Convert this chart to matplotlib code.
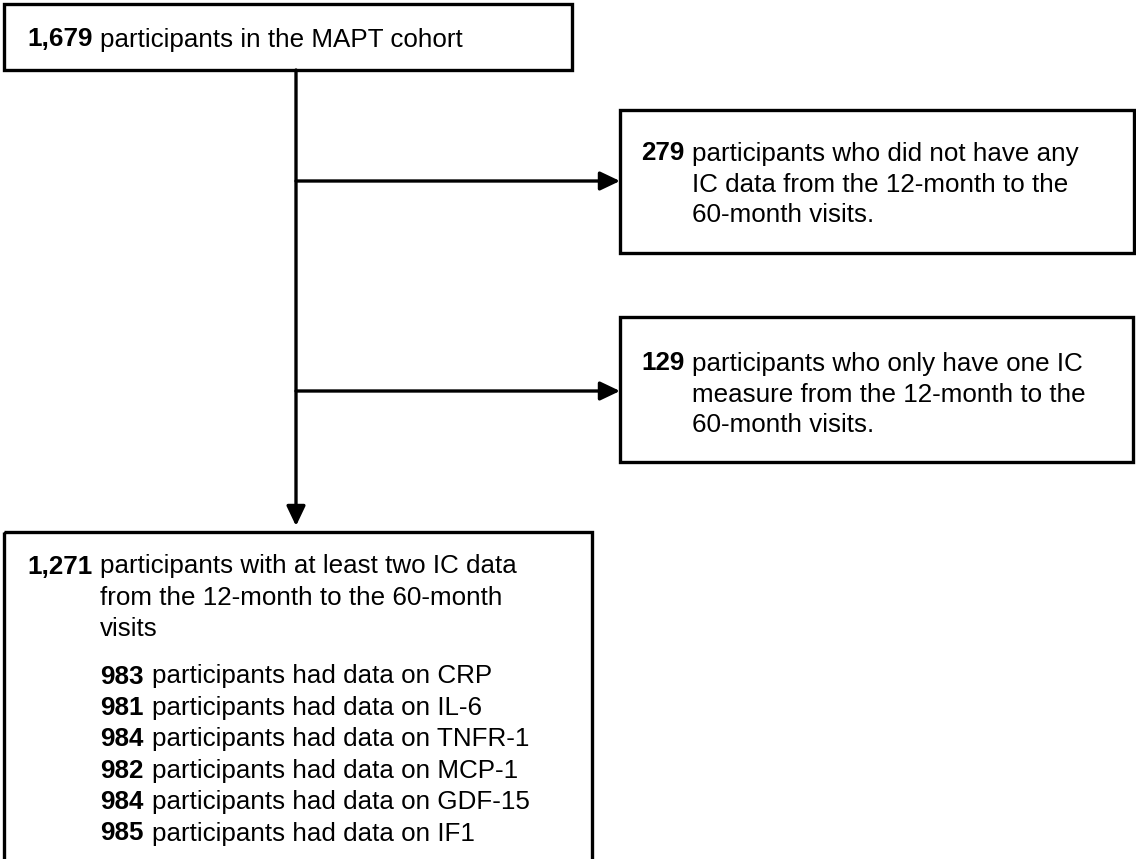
import matplotlib
matplotlib.use("Agg")
import matplotlib.pyplot as plt
from matplotlib.patches import Rectangle, FancyArrowPatch

plt.rcParams['font.family'] = ['Liberation Sans', 'DejaVu Sans']

# ---- data ----
total_n = "1,679"
total_text = "participants in the MAPT cohort"
excl_n = ["279", "129"]
excl_lines = [
    ["participants who did not have any", "IC data from the 12-month to the", "60-month visits."],
    ["participants who only have one IC", "measure from the 12-month to the", "60-month visits."],
]
final_n = "1,271"
final_lines = ["participants with at least two IC data", "from the 12-month to the 60-month", "visits"]
marker_n = ["983", "981", "984", "982", "984", "985"]
marker_names = ["CRP", "IL-6", "TNFR-1", "MCP-1", "GDF-15", "IF1"]

W, H = 1136, 859
fig = plt.figure(figsize=(W / 100, H / 100), dpi=100)
ax = fig.add_axes([0, 0, 1, 1])
ax.set_xlim(0, W)
ax.set_ylim(H, 0)
ax.axis('off')

FS = 18.7
BASE = 9.5  # baseline offset below visual line centre (px)
LW = 2.4
renderer = fig.canvas.get_renderer()


def box(x0, y0, x1, y1):
    ax.add_patch(Rectangle((x0, y0), x1 - x0, y1 - y0, fill=False,
                           edgecolor='black', lw=LW, clip_on=False))


def bold_then(x, y, num, lines, dy=31):
    t = ax.text(x, y + BASE, num, fontsize=FS, fontweight='bold', va='baseline', ha='left')
    bb = t.get_window_extent(renderer=renderer)
    x_text = x + bb.width + 8
    for i, ln in enumerate(lines):
        ax.text(x_text, y + i * dy + BASE, ln, fontsize=FS, va='baseline', ha='left')
    return x_text


def arrow(x0, y0, x1, y1):
    ax.add_patch(FancyArrowPatch((x0, y0), (x1, y1),
                                 arrowstyle='-|>,head_length=0.8,head_width=0.38',
                                 mutation_scale=15, lw=LW, color='black',
                                 shrinkA=0, shrinkB=0))


# top box
box(4, 4, 572, 70)
bold_then(27, 37, total_n, [total_text])

# main vertical line with arrow to final box
vx = 296
arrow(vx, 70, vx, 526)

# exclusion boxes
ex_boxes = [(620, 110, 1134, 253, 181), (620, 317, 1133, 462, 391)]
for (x0, y0, x1, y1, ay), n, lines in zip(ex_boxes, excl_n, excl_lines):
    box(x0, y0, x1, y1)
    arrow(vx, ay, x0, ay)
    bold_then(x0 + 21, ay - 30, n, lines)

# final box (bottom edge beyond the figure)
box(4, 532, 592, 880)
xt = bold_then(27, 564, final_n, final_lines, dy=31.5)
for i, (n, name) in enumerate(zip(marker_n, marker_names)):
    bold_then(xt, 674 + i * 31.4, n, ["participants had data on " + name])

fig.savefig("out.png", dpi=100)
